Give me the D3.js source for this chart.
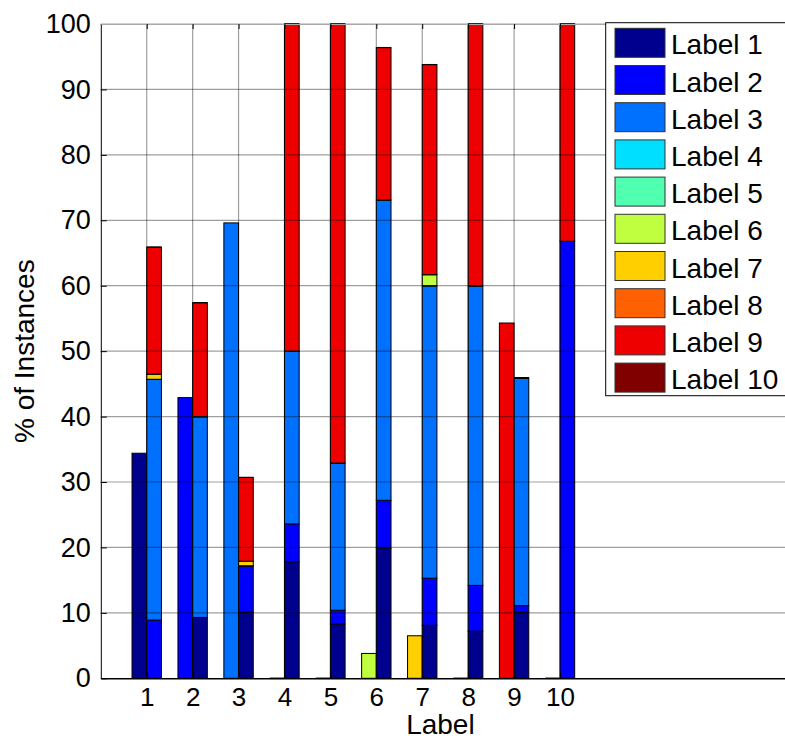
<!DOCTYPE html>
<html>
<head>
<meta charset="utf-8">
<script src="https://cdn.jsdelivr.net/npm/d3@7"></script>
<style>
  body { margin: 0; background: #fff; }
  svg { display: block; font-family: "Liberation Sans", Arial, sans-serif; }
</style>
</head>
<body>
<svg id="chart" width="785" height="742"></svg>
<script>
// categories on the x axis and the legend labels
const categories = [1, 2, 3, 4, 5, 6, 7, 8, 9, 10];
const labels = ["Label 1", "Label 2", "Label 3", "Label 4", "Label 5",
                "Label 6", "Label 7", "Label 8", "Label 9", "Label 10"];
const colors = ["#00008f", "#0000ff", "#0070ff", "#00dfff", "#50ffaf",
                "#bfff40", "#ffcf00", "#ff6000", "#ef0000", "#800000"];

// left bar: share of the category's own label
const ownShare = [34.4, 42.9, 69.6, 0, 0, 3.8, 6.5, 0, 54.3, 0];

// right bar: stacked shares of the other labels (label 1..10 per category)
const otherShares = [
  [0,    8.9, 36.8, 0, 0, 0,   0.8, 0, 19.4, 0],
  [9.3,  0,   30.7, 0, 0, 0,   0,   0, 17.4, 0],
  [10.1, 7.1, 0,    0, 0, 0,   0.7, 0, 12.8, 0],
  [17.8, 5.8, 26.4, 0, 0, 0,   0,   0, 50.0, 0],
  [8.3,  2.1, 22.5, 0, 0, 0,   0,   0, 67.1, 0],
  [19.9, 7.3, 45.9, 0, 0, 0,   0,   0, 23.3, 0],
  [8.1,  7.2, 44.7, 0, 0, 1.7, 0,   0, 32.1, 0],
  [7.2,  7.0, 45.8, 0, 0, 0,   0,   0, 40.0, 0],
  [10.1, 1.0, 34.8, 0, 0, 0,   0,   0, 0,    0],
  [0,    66.8, 0,   0, 0, 0,   0,   0, 33.2, 0]
];

const yTicks = [0, 10, 20, 30, 40, 50, 60, 70, 80, 90, 100];

const svg = d3.select("#chart");

let x = d3.scaleLinear().domain([0, 15]).range([100.8, 789.6]);
let y = d3.scaleLinear().domain([0, 100]).range([678.3, 24]);
const barW = 0.32;

let bars = svg.append("g");

// left bars, one colour each
categories.forEach(function(c, i) {
  let v = ownShare[i];
  if (v > 0) {
    bars.append("rect")
      .attr("x", x(c - barW))
      .attr("y", y(v))
      .attr("width", x(barW) - x(0))
      .attr("height", y(0) - y(v))
      .attr("fill", colors[i])
      .attr("stroke", "#000")
      .attr("stroke-width", 1);
  } else {
    bars.append("line")
      .attr("x1", x(c - barW)).attr("x2", x(c))
      .attr("y1", y(0)).attr("y2", y(0))
      .attr("stroke", "#000").attr("stroke-width", 1.5);
  }
});

// right bars, stacked
let rows = otherShares.map(function(r, i) {
  let o = { cat: categories[i] };
  r.forEach(function(v, k) { o[k] = v; });
  return o;
});
let stack = d3.stack().keys(d3.range(labels.length))(rows);

stack.forEach(function(layer, k) {
  layer.forEach(function(d) {
    let c = d.data.cat;
    if (d[1] - d[0] > 0) {
      bars.append("rect")
        .attr("x", x(c))
        .attr("y", y(d[1]))
        .attr("width", x(barW) - x(0))
        .attr("height", y(d[0]) - y(d[1]))
        .attr("fill", colors[k])
        .attr("stroke", "#000")
        .attr("stroke-width", 1);
    } else {
      bars.append("line")
        .attr("x1", x(c)).attr("x2", x(c + barW))
        .attr("y1", y(d[1])).attr("y2", y(d[1]))
        .attr("stroke", "#000").attr("stroke-width", 1.2);
    }
  });
});

// grid on top of the bars
let grid = svg.append("g")
  .attr("stroke", "#000")
  .attr("stroke-opacity", 0.38)
  .attr("stroke-width", 1.2);
yTicks.filter(t => t > 0).forEach(function(t) {
  grid.append("line")
    .attr("x1", x(0)).attr("x2", x(15))
    .attr("y1", y(t)).attr("y2", y(t));
});
categories.forEach(function(c) {
  grid.append("line")
    .attr("x1", x(c)).attr("x2", x(c))
    .attr("y1", y(0)).attr("y2", y(100));
});

// axes
let yAxis = d3.axisLeft(y).tickValues(yTicks).tickSizeInner(-6).tickSizeOuter(0).tickPadding(10);
let gy = svg.append("g").attr("transform", "translate(" + x(0) + ",0)").call(yAxis);
gy.selectAll("text").attr("font-size", 27).attr("fill", "#000")
  .attr("font-family", "Liberation Sans, Arial, sans-serif");
gy.select(".domain").attr("stroke", "#000");

let xAxis = d3.axisBottom(x).tickValues(categories).tickSizeInner(-6).tickSizeOuter(0).tickPadding(9);
let gx = svg.append("g").attr("transform", "translate(0," + y(0) + ")").call(xAxis);
gx.selectAll("text").attr("font-size", 26).attr("fill", "#000")
  .attr("font-family", "Liberation Sans, Arial, sans-serif");
gx.select(".domain").attr("stroke", "#000").attr("stroke-width", 1.5);

// top ticks
let xTop = d3.axisTop(x).tickValues(categories).tickSizeInner(-5).tickSizeOuter(0).tickFormat("");
let gt = svg.append("g").attr("transform", "translate(0," + y(100) + ")").call(xTop);
gt.select(".domain").attr("stroke", "#aaa");

// axis titles
svg.append("text")
  .attr("x", (x(0) + 780) / 2)
  .attr("y", 734)
  .attr("text-anchor", "middle")
  .attr("font-size", 28)
  .text("Label");

svg.append("text")
  .attr("transform", "translate(34," + (y(0) + y(100)) / 2 + ") rotate(-90)")
  .attr("text-anchor", "middle")
  .attr("font-size", 28)
  .text("% of Instances");

// legend
let legend = svg.append("g");
legend.append("rect")
  .attr("x", 605.7).attr("y", 22.7)
  .attr("width", 200).attr("height", 373)
  .attr("fill", "#fff").attr("stroke", "#000").attr("stroke-width", 1);

labels.forEach(function(l, i) {
  let yy = 28.3 + i * 37.2;
  legend.append("rect")
    .attr("x", 615).attr("y", yy)
    .attr("width", 50).attr("height", 29)
    .attr("fill", colors[i])
    .attr("stroke", "#333").attr("stroke-width", 1);
  legend.append("text")
    .attr("x", 671).attr("y", yy + 26)
    .attr("font-size", 28)
    .text(l);
});
</script>
</body>
</html>
